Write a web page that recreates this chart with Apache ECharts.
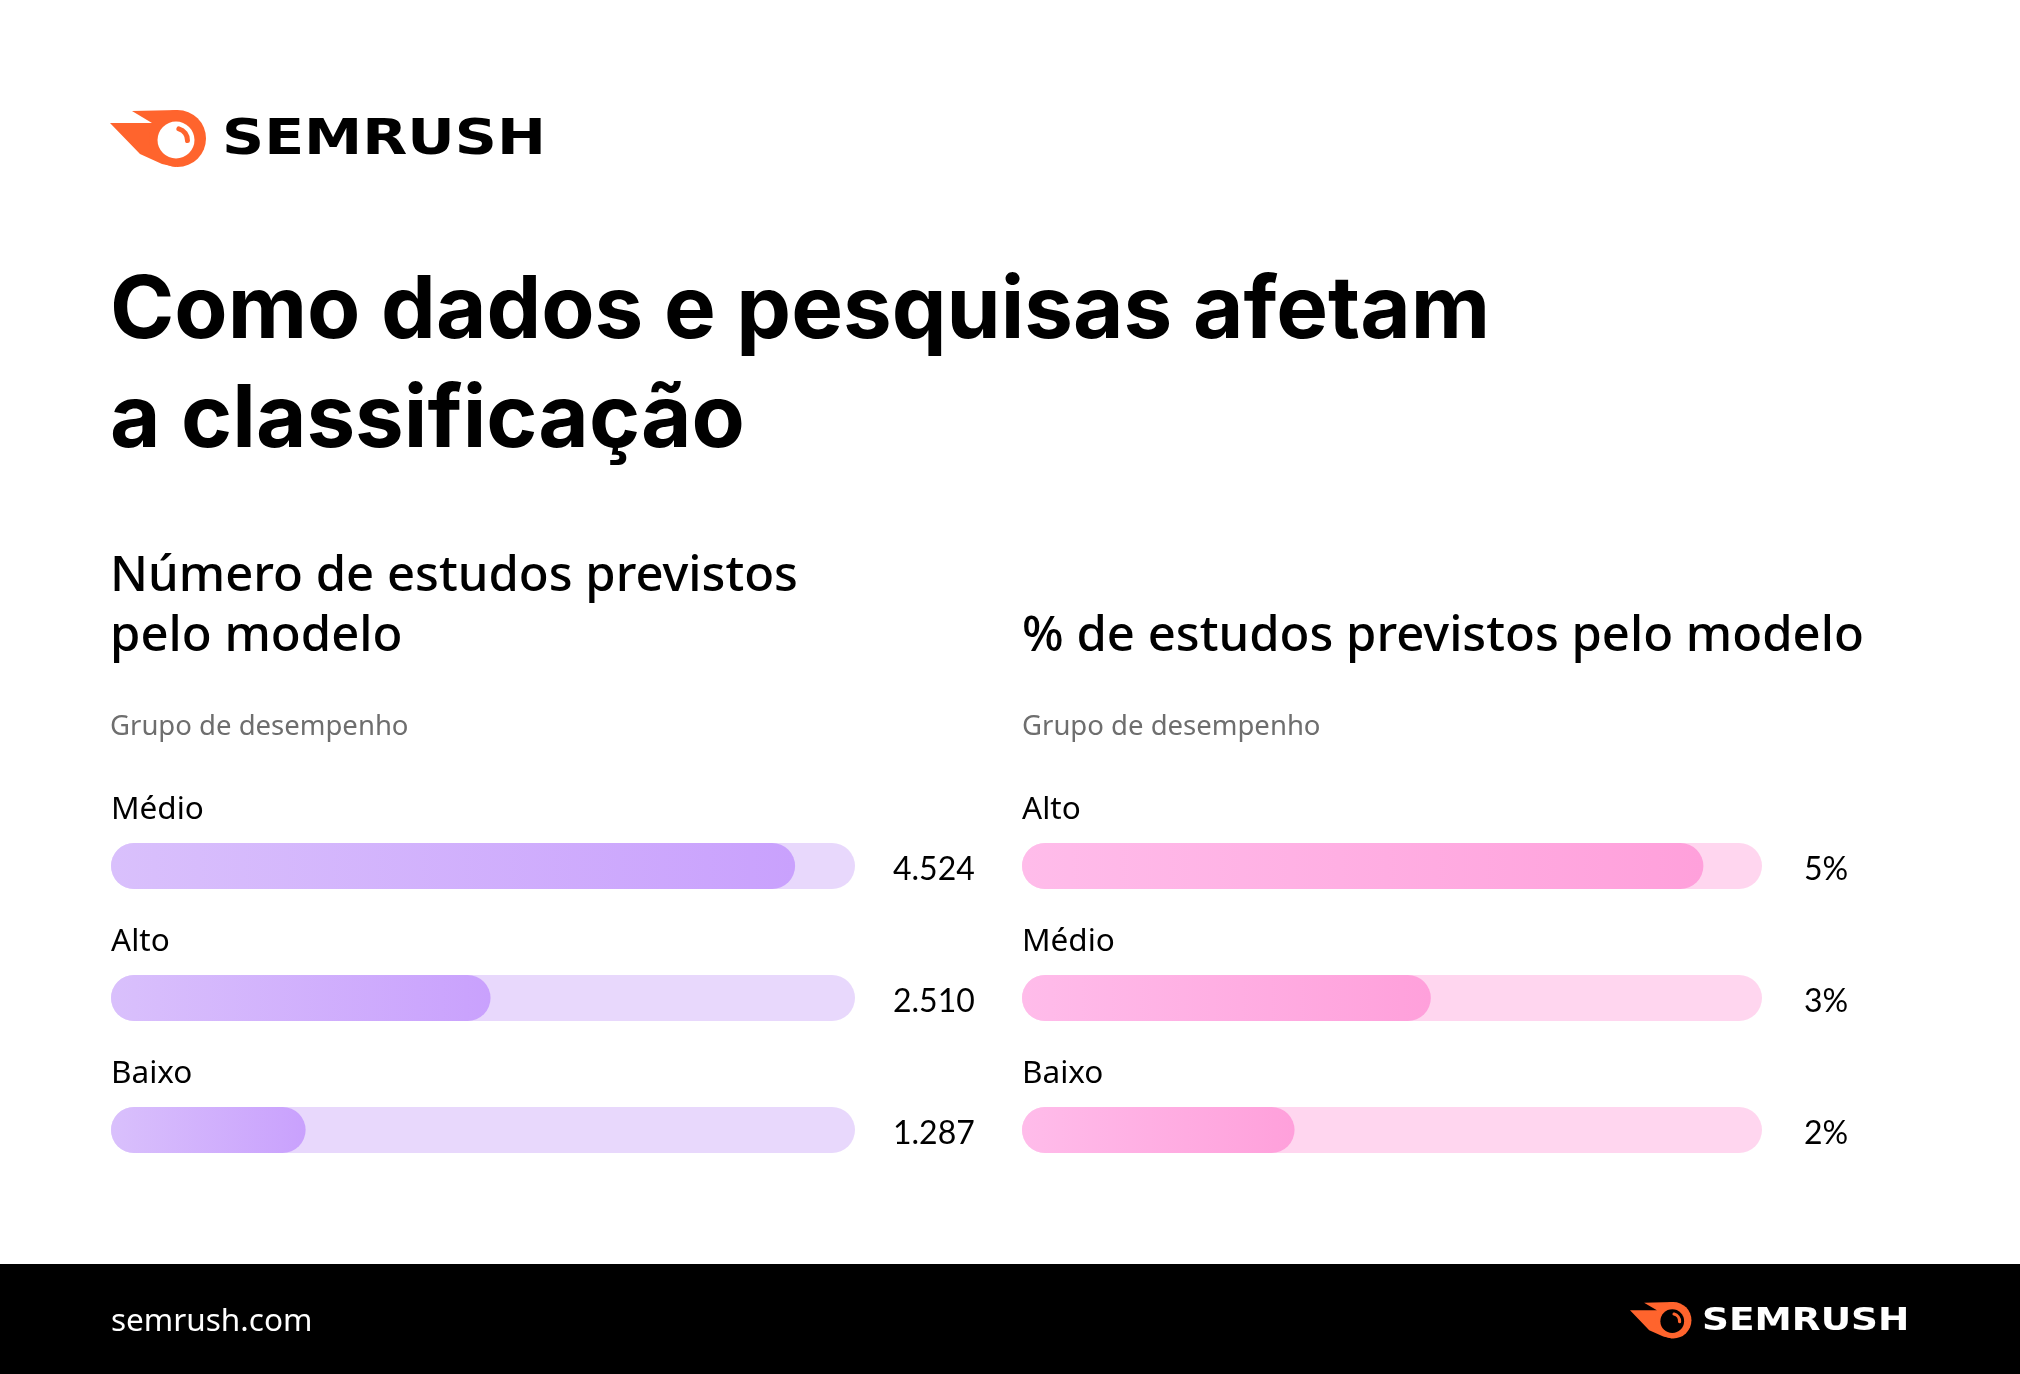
<!DOCTYPE html>
<html><head><meta charset="utf-8">
<script src="https://cdn.jsdelivr.net/npm/echarts@6/dist/echarts.min.js"></script>
<style>html,body{margin:0;padding:0;background:#fff}#c{width:2020px;height:1374px}</style>
</head><body><div id="c"></div>
<script>
const catsLeft = ['Médio', 'Alto', 'Baixo'];
const valsLeft = [4524, 2510, 1287];
const labelsLeft = ['4.524', '2.510', '1.287'];
const catsRight = ['Alto', 'Médio', 'Baixo'];
const valsRight = [5, 3, 2];
const labelsRight = ['5%', '3%', '2%'];

const chart = echarts.init(document.getElementById('c'));
const BODY = '"Noto Sans", Lato, sans-serif';
const NUM = 'Lato, "Noto Sans", sans-serif';
const HEAD = 'Inter, "Noto Sans", sans-serif';

function grad(a, b) {
  return new echarts.graphic.LinearGradient(0, 0, 1, 0, [{offset: 0, color: a}, {offset: 1, color: b}]);
}

function logo(x, y, s, eyeColor, textColor, tx, ty, fs, sx) {
  return [{
    type: 'group', x: x, y: y, scaleX: s, scaleY: s,
    children: [
      {type: 'polygon', shape: {points: [[22,1],[68,0],[70,28],[66,57],[52,54],[30,44],[0,13],[42,13]]}, style: {fill: '#FF642D'}},
      {type: 'circle', shape: {cx: 67.5, cy: 28.5, r: 28.5}, style: {fill: '#FF642D'}},
      {type: 'circle', shape: {cx: 66, cy: 30, r: 18.5}, style: {fill: eyeColor}},
      {type: 'arc', shape: {cx: 66, cy: 30, r: 11.5, startAngle: -Math.PI * 0.42, endAngle: 0.05}, style: {stroke: '#FF642D', lineWidth: 5, fill: null, lineCap: 'round'}}
    ]
  }, {
    type: 'text', x: tx, y: ty, scaleX: sx, scaleY: 1,
    style: {text: 'SEMRUSH', font: '700 ' + fs + 'px "DejaVu Sans"', fill: textColor, verticalAlign: 'middle', align: 'left'}
  }];
}

const graphics = [].concat(
  logo(110, 110, 1, '#ffffff', '#000', 222, 141, 50, 1.17),
  [
    {type: 'text', x: 110, y: 312, style: {text: 'Como dados e pesquisas afetam', font: '700 87px ' + HEAD, fill: '#000', verticalAlign: 'middle'}},
    {type: 'text', x: 110, y: 421, style: {text: 'a classificação', font: '700 87px ' + HEAD, fill: '#000', verticalAlign: 'middle'}},
    {type: 'text', x: 110, y: 577, style: {text: 'Número de estudos previstos', font: '500 49px ' + BODY, fill: '#000', verticalAlign: 'middle'}},
    {type: 'text', x: 110, y: 637, style: {text: 'pelo modelo', font: '500 49px ' + BODY, fill: '#000', verticalAlign: 'middle'}},
    {type: 'text', x: 1022, y: 637, style: {text: '% de estudos previstos pelo modelo', font: '500 49px ' + BODY, fill: '#000', verticalAlign: 'middle'}},
    {type: 'text', x: 110, y: 727, style: {text: 'Grupo de desempenho', font: '400 27.5px ' + BODY, fill: '#6e6e6e', verticalAlign: 'middle'}},
    {type: 'text', x: 1022, y: 727, style: {text: 'Grupo de desempenho', font: '400 27.5px ' + BODY, fill: '#6e6e6e', verticalAlign: 'middle'}},
    {type: 'rect', shape: {x: 0, y: 1264, width: 2020, height: 110}, style: {fill: '#000'}, z: -1},
    {type: 'text', x: 111, y: 1322, style: {text: 'semrush.com', font: '400 31.5px ' + BODY, fill: '#fff', verticalAlign: 'middle'}}
  ],
  logo(1630, 1302, 0.64, '#000000', '#fff', 1702, 1322, 32, 1.17)
);

function barSeries(vals, cats, gi, c1, c2, track) {
  return {
    type: 'bar', xAxisIndex: gi, yAxisIndex: gi * 2, barWidth: 46,
    data: vals,
    itemStyle: {color: grad(c1, c2), borderRadius: 23},
    showBackground: true,
    backgroundStyle: {color: track, borderRadius: 23},
    label: {
      show: true, position: [0, -33], align: 'left', verticalAlign: 'middle',
      formatter: p => cats[p.dataIndex], color: '#000', fontSize: 31.5, fontFamily: BODY
    },
    silent: true
  };
}

function valueAxis(gi, labels, margin) {
  return {gridIndex: gi, type: 'category', data: labels, inverse: true, position: 'right',
    axisLine: {show: false}, axisTick: {show: false},
    axisLabel: {margin: margin, align: 'left', formatter: v => '{v|' + v + '}',
      rich: {v: {color: '#000', fontSize: 32, fontFamily: NUM, padding: [7, 0, 0, 0]}}}};
}

const option = {
  backgroundColor: '#fff',
  animation: false,
  grid: [
    {left: 111, width: 744, top: 800, height: 396},
    {left: 1022, width: 740, top: 800, height: 396}
  ],
  xAxis: [
    {gridIndex: 0, type: 'value', min: 0, max: 4920, show: false},
    {gridIndex: 1, type: 'value', min: 0, max: 5.43, show: false}
  ],
  yAxis: [
    {gridIndex: 0, type: 'category', data: catsLeft, inverse: true, show: false},
    valueAxis(0, labelsLeft, 38),
    {gridIndex: 1, type: 'category', data: catsRight, inverse: true, show: false},
    valueAxis(1, labelsRight, 42)
  ],
  series: [
    barSeries(valsLeft, catsLeft, 0, '#D9C0FC', '#C9A1FD', '#E8D8FC'),
    barSeries(valsRight, catsRight, 1, '#FFBCEA', '#FFA0DB', '#FFD6EF')
  ],
  graphic: graphics
};
option.series[1].yAxisIndex = 2;
chart.setOption(option);
</script></body></html>
